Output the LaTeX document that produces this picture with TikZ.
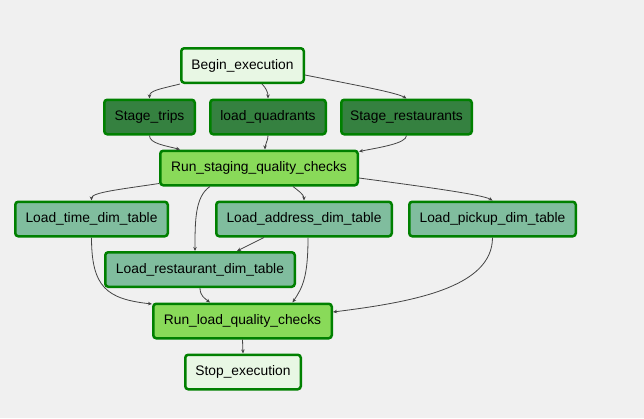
\documentclass[tikz,border=0pt]{standalone}
\usepackage{fontspec}
\setmainfont{Liberation Sans}
\usetikzlibrary{arrows.meta}
\definecolor{bgcol}{HTML}{F0F0F0}
\definecolor{taskborder}{HTML}{008000}
\definecolor{dummyfill}{HTML}{E8F7E4}
\definecolor{stagefill}{HTML}{358140}
\definecolor{checkfill}{HTML}{89DA59}
\definecolor{loadfill}{HTML}{80BD9E}
\definecolor{edgecol}{HTML}{444444}
\begin{document}
\begin{tikzpicture}[x=1pt, y=-1pt,
  task/.style={rectangle, rounded corners=3pt, draw=taskborder, line width=2.5pt,
    minimum height=34.5pt, inner sep=0pt, text=black,
    font=\fontsize{13.8}{16}\selectfont},
  dummy/.style={task, fill=dummyfill},
  stage/.style={task, fill=stagefill},
  check/.style={task, fill=checkfill},
  load/.style={task, fill=loadfill},
  dep/.style={draw=edgecol, line width=0.8pt, -{Stealth[length=4pt,width=3.5pt]}}]
\fill[bgcol] (0,0) rectangle (644,418);
\useasboundingbox (0,0) rectangle (644,418);
\node[dummy, minimum width=122.5pt] (begin) at (242.5,65.5){Begin\_execution};
\node[stage, minimum width=90.5pt] (trips) at (149.5,117){Stage\_trips};
\node[stage, minimum width=115.5pt] (quadrants) at (268,117){load\_quadrants};
\node[stage, minimum width=130.5pt] (srest) at (406.5,117){Stage\_restaurants};
\node[check, minimum width=197.5pt] (stagecheck) at (259,168){Run\_staging\_quality\_checks};
\node[load, minimum width=152.5pt] (timedim) at (91.5,219){Load\_time\_dim\_table};
\node[load, minimum width=175.5pt] (addrdim) at (304,219){Load\_address\_dim\_table};
\node[load, minimum width=166.5pt] (pickdim) at (492.5,219){Load\_pickup\_dim\_table};
\node[load, minimum width=189.5pt] (restdim) at (200,269.5){Load\_restaurant\_dim\_table};
\node[check, minimum width=178.5pt] (loadcheck) at (242.5,321){Run\_load\_quality\_checks};
\node[dummy, minimum width=115.5pt] (stop) at (243,372){Stop\_execution};
\draw[dep] (begin.south west) .. controls +(-20,5) and +(0,-8) .. (trips.north);
\draw[dep] ([xshift=19.5pt]begin.south) .. controls +(4,4) and +(0,-6) .. (quadrants.north);
\draw[dep] ([yshift=-9.5pt]begin.east) .. controls +(50,10) and +(-10,-6) .. (srest.north);
\draw[dep] (trips.south) .. controls +(0,8) and +(-15,-4) .. ([xshift=21pt]stagecheck.north west);
\draw[dep] (quadrants.south) .. controls +(0,6) and +(0,-6) .. ([xshift=6pt]stagecheck.north);
\draw[dep] (srest.south) .. controls +(0,8) and +(20,-4) .. ([yshift=-2pt]stagecheck.north east);
\draw[dep] ([yshift=3pt]stagecheck.south west) .. controls +(-40,6) and +(0,-8) .. (timedim.north);
\draw[dep] ([xshift=-49pt]stagecheck.south) .. controls +(-15,10) and +(0,-30) .. ([xshift=-5pt]restdim.north);
\draw[dep] ([xshift=34pt]stagecheck.south) .. controls +(5,4) and +(0,-6) .. (addrdim.north);
\draw[dep] ([yshift=-10pt]stagecheck.east) .. controls +(60,8) and +(-10,-6) .. (pickdim.north);
\draw[dep] ([xshift=-40pt]addrdim.south) -- ([xshift=37pt]restdim.north);
\draw[dep] (timedim.south) .. controls +(0,50) and +(-45,-5) .. ([yshift=-1.5pt]loadcheck.north west);
\draw[dep] (restdim.south) .. controls +(0,8) and +(-5,-4) .. ([xshift=-32.5pt]loadcheck.north);
\draw[dep] ([xshift=4pt]addrdim.south) .. controls +(0,40) and +(10,-15) .. ([xshift=50pt]loadcheck.north);
\draw[dep] (pickdim.south) .. controls +(0,50) and +(80,-10) .. ([yshift=9pt]loadcheck.east);
\draw[dep] (loadcheck.south) -- (stop.north);
\end{tikzpicture}
\end{document}
